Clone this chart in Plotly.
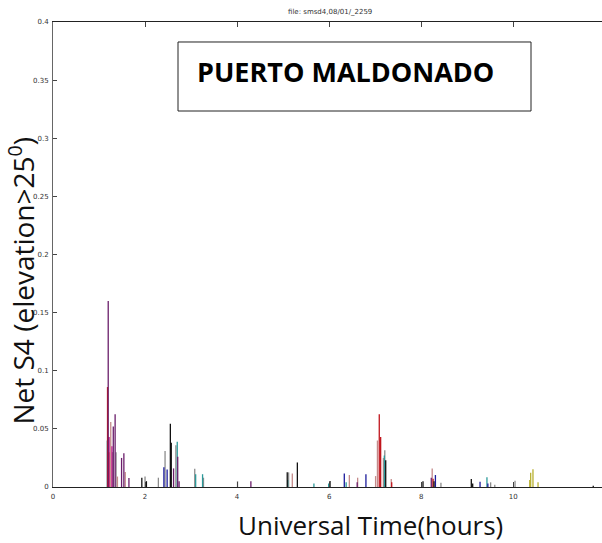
import plotly.graph_objects as go

# ---- data (hours, net S4) per colour group ----
purple_t = [1.20, 1.35, 1.31, 1.49, 1.54, 1.65, 2.62, 2.71, 2.74, 4.30, 6.61, 8.22]
purple_v = [0.160, 0.0625, 0.052, 0.025, 0.029, 0.0077, 0.016, 0.026, 0.005, 0.005, 0.004, 0.008]

red_t = [1.185, 1.21, 7.09, 7.12, 7.36, 8.26]
red_v = [0.086, 0.030, 0.0625, 0.043, 0.004, 0.007]

pink_t = [1.255, 1.40, 1.57, 5.20, 6.44, 6.62, 7.01, 7.05, 7.18, 7.35, 8.24]
pink_v = [0.056, 0.009, 0.013, 0.0117, 0.0103, 0.008, 0.0094, 0.040, 0.025, 0.0068, 0.016]

magenta_t = [1.22, 1.28]
magenta_v = [0.043, 0.035]

blue_t = [1.195, 2.41, 2.48, 6.33, 6.80, 8.31, 9.28, 9.45]
blue_v = [0.043, 0.017, 0.015, 0.0117, 0.011, 0.0103, 0.0046, 0.003]

teal_t = [1.18, 2.70, 3.10, 3.25, 5.10, 5.67, 5.99, 6.37, 7.20, 9.43]
teal_v = [0.040, 0.039, 0.011, 0.011, 0.006, 0.003, 0.003, 0.004, 0.027, 0.0083]

black_t = [1.93, 2.03, 2.55, 2.57, 5.09, 5.31, 6.02, 7.23, 8.04, 8.28, 9.09, 9.12, 11.74]
black_v = [0.008, 0.005, 0.0545, 0.038, 0.0126, 0.0211, 0.0051, 0.023, 0.005, 0.005, 0.0068, 0.003, 0.001]

gray_t = [1.29, 1.37, 2.00, 2.29, 2.435, 2.67, 3.08, 3.27, 4.01, 5.12, 7.21, 8.43, 9.51, 9.60, 10.04]
gray_v = [0.030, 0.030, 0.009, 0.008, 0.031, 0.036, 0.0157, 0.008, 0.005, 0.0126, 0.0317, 0.0037, 0.004, 0.002, 0.0054]

olive_t = [10.36, 10.38, 10.43, 10.54]
olive_v = [0.006, 0.0123, 0.0152, 0.004]

groups = [
    (gray_t, gray_v, "#8c8c8c"),
    (pink_t, pink_v, "#c48a8a"),
    (teal_t, teal_v, "#2c9a9a"),
    (blue_t, blue_v, "#1c1c9c"),
    (magenta_t, magenta_v, "#cc1f8f"),
    (red_t, red_v, "#c0141c"),
    (black_t, black_v, "#111111"),
    (purple_t, purple_v, "#6b1e6b"),
    (olive_t, olive_v, "#b8b030"),
]

x_ticks = [0, 2, 4, 6, 8, 10]
y_ticks = [0, 0.05, 0.1, 0.15, 0.2, 0.25, 0.3, 0.35, 0.4]

fig = go.Figure()
for ts, vs, col in groups:
    xs, ys = [], []
    for t, v in zip(ts, vs):
        xs += [t, t, None]
        ys += [0, v, None]
    fig.add_trace(go.Scatter(x=xs, y=ys, mode="lines",
                             line=dict(color=col, width=1.3),
                             showlegend=False, hoverinfo="skip"))

fig.update_layout(
    width=602, height=543,
    margin=dict(l=53, r=0, t=22, b=56),
    paper_bgcolor="white", plot_bgcolor="white",
    showlegend=False,
    xaxis=dict(range=[0, 11.93], tickvals=x_ticks, ticks="inside", ticklen=5,
               showline=True, linecolor="#222", linewidth=1, mirror="ticks",
               showgrid=False, zeroline=False, ticklabelstandoff=3,
               tickfont=dict(size=7, color="#333", family="DejaVu Sans")),
    yaxis=dict(range=[0, 0.4], tickvals=y_ticks, ticks="inside", ticklen=4,
               showline=True, linecolor="#666", linewidth=1,
               showgrid=False, zeroline=False, ticklabelstandoff=2,
               tickfont=dict(size=7, color="#333", family="DejaVu Sans")),
    shapes=[dict(type="rect", xref="paper", yref="paper",
                 x0=0.2277, x1=0.8707, y0=0.8086, y1=0.957,
                 line=dict(color="#222", width=1), fillcolor="white")],
    annotations=[
        dict(text="<b>PUERTO MALDONADO</b>", xref="paper", yref="paper",
             x=0.5328, y=0.8946, showarrow=False, xanchor="center", yanchor="middle",
             font=dict(size=27, color="black", family="Open Sans")),
        dict(text="file: smsd4,08/01/_2259", xref="paper", yref="paper",
             x=0.505, y=1.0, yshift=10, showarrow=False, xanchor="center", yanchor="middle",
             font=dict(size=7, color="#333", family="DejaVu Sans")),
        dict(text="Universal Time(hours)", xref="paper", yref="paper",
             x=0.579, y=0, yshift=-38, showarrow=False, xanchor="center", yanchor="middle",
             font=dict(size=26, color="#111", family="Open Sans")),
        dict(text="Net S4 (elevation>25<sup>0</sup>)", xref="paper", yref="paper",
             x=0, xshift=-31, y=0.444, showarrow=False, textangle=-90,
             xanchor="center", yanchor="middle",
             font=dict(size=28, color="#111", family="Open Sans")),
    ],
)

fig.write_html("out.html")
